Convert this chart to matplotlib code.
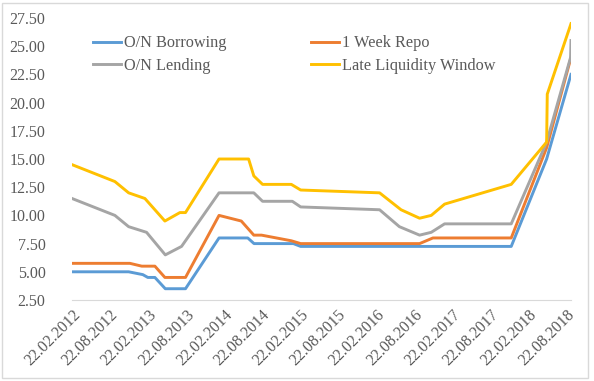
# Policy rate corridor chart, 2012-2018 (O/N borrowing, 1 week repo, O/N lending, LLW).
import numpy as np
import pandas as pd
import matplotlib
matplotlib.use("Agg")
import matplotlib.pyplot as plt
import matplotlib.dates as mdates
from matplotlib.patches import Rectangle

# Values.
borrow_dates = ["2012-02-22", "2012-11-20", "2013-01-27", "2013-02-20", "2013-03-26",
                "2013-05-15", "2013-08-20", "2014-01-28", "2014-06-15", "2014-07-15",
                "2015-01-20", "2015-02-24", "2017-12-01", "2018-05-20", "2018-09-14"]
borrow_vals = [5.0, 5.0, 4.75, 4.5, 4.5, 3.5, 3.5, 8.0, 8.0, 7.5, 7.5, 7.25, 7.25, 15.0, 22.5]

repo_dates = ["2012-02-22", "2012-11-26", "2013-01-22", "2013-03-26", "2013-05-13",
              "2013-08-20", "2014-01-28", "2014-05-15", "2014-07-14", "2014-08-20",
              "2015-01-10", "2015-02-24", "2016-09-17", "2016-11-20", "2017-12-01",
              "2018-05-20", "2018-09-14"]
repo_vals = [5.75, 5.75, 5.5, 5.5, 4.5, 4.5, 10.0, 9.5, 8.25, 8.25, 7.75, 7.5, 7.5,
             8.0, 8.0, 16.0, 24.0]

lend_dates = ["2012-02-22", "2012-09-15", "2012-11-20", "2013-02-14", "2013-05-15",
              "2013-08-01", "2014-01-28", "2014-07-14", "2014-08-25", "2015-01-15",
              "2015-02-24", "2016-03-09", "2016-06-12", "2016-09-17", "2016-11-12",
              "2017-01-15", "2017-12-01", "2018-05-20", "2018-09-12", "2018-09-14"]
lend_vals = [11.5, 10.0, 9.0, 8.5, 6.5, 7.25, 12.0, 12.0, 11.25, 11.25, 10.75, 10.5,
             9.0, 8.25, 8.5, 9.25, 9.25, 16.5, 24.0, 25.5]

llw_dates = ["2012-02-22", "2012-09-15", "2012-11-20", "2013-02-06", "2013-05-13",
             "2013-07-24", "2013-08-20", "2014-01-28", "2014-06-19", "2014-07-14",
             "2014-08-25", "2015-01-10", "2015-02-24", "2016-03-09", "2016-06-20",
             "2016-09-17", "2016-11-12", "2017-01-15", "2017-12-01", "2018-05-20",
             "2018-05-23", "2018-09-14"]
llw_vals = [14.5, 13.0, 12.0, 11.5, 9.5, 10.25, 10.25, 15.0, 15.0, 13.5, 12.75, 12.75,
            12.25, 12.0, 10.5, 9.75, 10.0, 11.0, 12.75, 16.5, 20.75, 27.0]

series = [
    ("O/N Borrowing", borrow_dates, borrow_vals, "#5B9BD5"),
    ("1 Week Repo", repo_dates, repo_vals, "#ED7D31"),
    ("O/N Lending", lend_dates, lend_vals, "#A5A5A5"),
    ("Late Liquidity Window", llw_dates, llw_vals, "#FFC000"),
]

y_ticks = np.arange(2.5, 27.6, 2.5)
tick_dates = [pd.Timestamp("2012-02-22") + pd.DateOffset(months=6 * i) for i in range(14)]

plt.rcParams["font.family"] = ["Liberation Serif", "DejaVu Serif"]

fig = plt.figure(figsize=(5.94, 3.81), dpi=100)
ax = fig.add_axes([72 / 594, 1 - 300 / 381, (571 - 72) / 594, (300 - 18) / 381])

lines = {}
for name, d, v, c in series:
    (ln,) = ax.plot(pd.to_datetime(d), v, color=c, lw=2.1, label=name,
                    solid_joinstyle="round")
    lines[name] = ln

ax.set_ylim(2.5, 27.5)
ax.set_yticks(y_ticks)
ax.set_yticklabels([f"{t:.2f}" for t in y_ticks])
ax.set_xlim(pd.Timestamp("2012-02-22"), pd.Timestamp("2018-09-14"))
ax.set_xticks(tick_dates)
ax.xaxis.set_major_formatter(mdates.DateFormatter("%d.%m.%Y"))

for s in ["top", "right", "left"]:
    ax.spines[s].set_visible(False)
ax.spines["bottom"].set_color("#d9d9d9")
ax.spines["bottom"].set_linewidth(0.8)

ax.tick_params(axis="y", length=0, pad=19, labelsize=11.5, labelcolor="#595959")
ax.tick_params(axis="x", length=0, pad=5, labelsize=11.5, labelcolor="#595959")
for lbl in ax.get_xticklabels():
    lbl.set_rotation(45)
    lbl.set_ha("right")
    lbl.set_va("top")
    lbl.set_rotation_mode("anchor")

order = ["O/N Borrowing", "O/N Lending", "1 Week Repo", "Late Liquidity Window"]
ax.legend([lines[n] for n in order], order, ncol=2, frameon=False,
          loc="upper left", bbox_to_anchor=(90 / 594, 1 - 32 / 381),
          bbox_transform=fig.transFigure, fontsize=11.7, handlelength=1.7,
          handletextpad=0.2, columnspacing=5.2, labelspacing=0.42,
          borderaxespad=0, borderpad=0.2, labelcolor="#595959")

fig.patches.append(Rectangle((2 / 594, 3 / 381), 586 / 594, 375 / 381,
                             transform=fig.transFigure, fill=False,
                             edgecolor="#d9d9d9", lw=1.0))

fig.savefig("out.png", dpi=100)
